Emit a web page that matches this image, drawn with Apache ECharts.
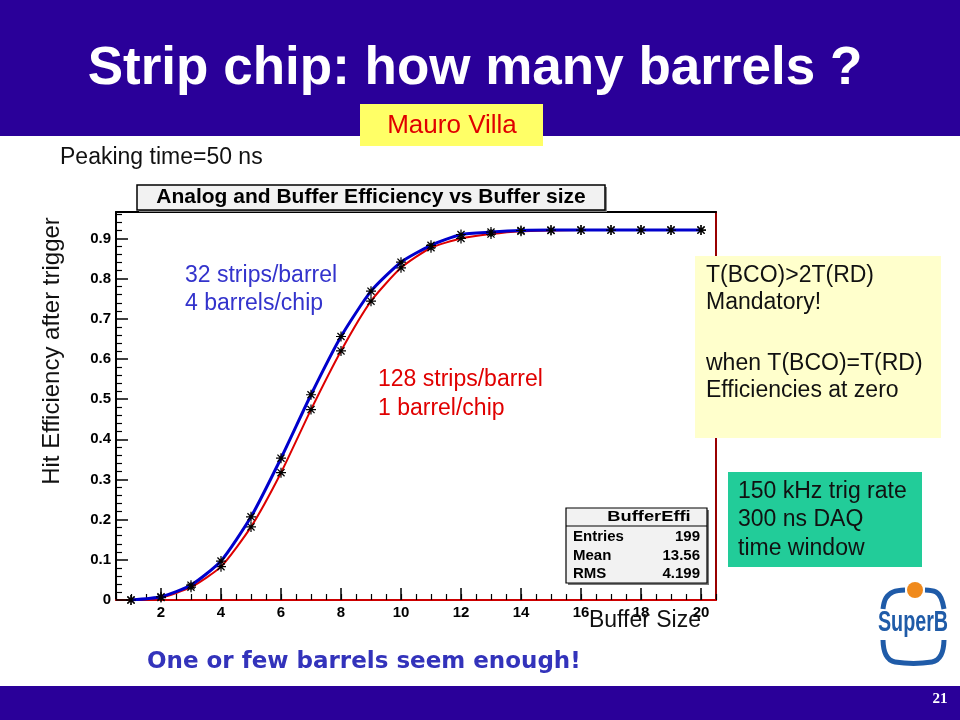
<!DOCTYPE html>
<html>
<head>
<meta charset="utf-8">
<script src="https://cdn.jsdelivr.net/npm/echarts@6/dist/echarts.min.js"></script>
<style>
html,body{margin:0;padding:0;background:#fff;}
#chart{width:960px;height:720px;}
</style>
</head>
<body>
<div id="chart"></div>
<script>
// ---- data ----
const bufferSize = [1,2,3,4,5,6,7,8,9,10,11,12,13,14,15,16,17,18,19,20];
const eff32strips = [0.0,0.008,0.037,0.097,0.207,0.353,0.511,0.656,0.769,0.841,0.883,0.910,0.916,0.920,0.921,0.921,0.921,0.921,0.921,0.921];
const eff128strips = [0.0,0.006,0.032,0.083,0.182,0.317,0.474,0.620,0.744,0.827,0.877,0.900,0.911,0.918,0.920,0.921,0.921,0.921,0.921,0.921];
const xMajorTicks = [2,4,6,8,10,12,14,16,18,20];
const xMinorTicks = [0.5,1,1.5,2,2.5,3,3.5,4,4.5,5,5.5,6,6.5,7,7.5,8,8.5,9,9.5,10,10.5,11,11.5,12,12.5,13,13.5,14,14.5,15,15.5,16,16.5,17,17.5,18,18.5,19,19.5,20,20.5];
const yMajorTicks = [0,0.1,0.2,0.3,0.4,0.5,0.6,0.7,0.8,0.9];
const yMinorTicks = [0.02,0.04,0.06,0.08,0.12,0.14,0.16,0.18,0.22,0.24,0.26,0.28,0.32,0.34,0.36,0.38,0.42,0.44,0.46,0.48,0.52,0.54,0.56,0.58,0.62,0.64,0.66,0.68,0.72,0.74,0.76,0.78,0.82,0.84,0.86,0.88,0.92,0.94,0.96];
const statsRows = [["Entries","199"],["Mean","13.56"],["RMS","4.199"]];

const pairs = (xs, ys) => xs.map((x,i)=>[x, ys[i]]);
const star = 'path://M-0.6,-5 L0.6,-5 L0.6,5 L-0.6,5 Z M-5,-0.6 L5,-0.6 L5,0.6 L-5,0.6 Z M-4,-3.1 L-3.1,-4 L4,3.1 L3.1,4 Z M3.1,-4 L4,-3.1 L-3.1,4 L-4,3.1 Z';

const band = '#2A0099';
const F = '"Liberation Sans", Arial, sans-serif';
const chart = echarts.init(document.getElementById('chart'), null, {renderer:'canvas'});
const lblFont = {fontFamily:'Liberation Sans, Arial', fontWeight:'bold', fontSize:15, color:'#000'};
const txt = (x, y, s, size, color, extra) => Object.assign({type:'text', x:x, y:y, z:11,
  style:{text:s, font:size+'px '+F, fill:color, textAlign:'left', textVerticalAlign:'middle'}}, extra||{});

const graphics = [
  {type:'rect', shape:{x:0,y:0,width:960,height:136}, style:{fill:band}, z:0},
  {type:'rect', shape:{x:0,y:686,width:960,height:34}, style:{fill:band}, z:0},
  {type:'text', x:475, y:69, style:{text:'Strip chip: how many barrels ?', font:'bold 53px '+F, fill:'#fff', textAlign:'center', textVerticalAlign:'middle'}},
  {type:'text', x:940, y:699, style:{text:'21', font:'bold 15px "Liberation Serif", "Times New Roman", serif', fill:'#fff', textAlign:'center', textVerticalAlign:'middle'}},
  {type:'rect', shape:{x:360,y:104,width:183,height:42}, style:{fill:'#FFFF66'}},
  {type:'text', x:452, y:126, style:{text:'Mauro Villa', font:'26px '+F, fill:'#E00000', textAlign:'center', textVerticalAlign:'middle'}},
  txt(60, 158, 'Peaking time=50 ns', 23, '#111'),
  // title box
  {type:'rect', shape:{x:139,y:187,width:468,height:25}, style:{fill:'#888'}, z:5},
  {type:'rect', shape:{x:137,y:185,width:468,height:25}, style:{fill:'#F2F2F2', stroke:'#000', lineWidth:1.5}, z:6},
  {type:'text', x:371, y:197, z:7, style:{text:'Analog and Buffer Efficiency vs Buffer size', font:'bold 21px '+F, fill:'#000', textAlign:'center', textVerticalAlign:'middle'}},
  // axis names
  {type:'text', x:52, y:351, rotation:Math.PI/2, style:{text:'Hit Efficiency after trigger', font:'24px '+F, fill:'#111', textAlign:'center', textVerticalAlign:'middle'}},
  {type:'text', x:701, y:621, z:8, style:{text:'Buffer Size', font:'23px '+F, fill:'#111', textAlign:'right', textVerticalAlign:'middle'}},
  // annotations
  txt(185, 276, '32 strips/barrel', 23, '#3333CC'),
  txt(185, 304, '4 barrels/chip', 23, '#3333CC'),
  txt(378, 380, '128 strips/barrel', 23, '#E00000'),
  txt(378, 409, '1 barrel/chip', 23, '#E00000'),
  {type:'rect', shape:{x:695,y:256,width:246,height:182}, style:{fill:'#FFFFCC'}, z:10},
  txt(706, 276, 'T(BCO)>2T(RD)', 23, '#111'),
  txt(706, 303, 'Mandatory!', 23, '#111'),
  txt(706, 364, 'when T(BCO)=T(RD)', 23, '#111'),
  txt(706, 391, 'Efficiencies at zero', 23, '#111'),
  {type:'rect', shape:{x:728,y:472,width:194,height:95}, style:{fill:'#22CC99'}, z:10},
  txt(738, 492, '150 kHz trig rate', 23, '#111'),
  txt(738, 520, '300 ns DAQ', 23, '#111'),
  txt(738, 549, 'time window', 23, '#111'),
  // stats box
  {type:'rect', shape:{x:568,y:510,width:141,height:75}, style:{fill:'#777'}, z:12},
  {type:'rect', shape:{x:566,y:508,width:141,height:75}, style:{fill:'#F2F2F2', stroke:'#000', lineWidth:1.2}, z:13},
  {type:'line', shape:{x1:566,y1:526,x2:707,y2:526}, style:{stroke:'#000', lineWidth:1.2}, z:14},
  {type:'text', x:649, y:517, scaleX:1.22, z:14, style:{text:'BufferEffi', font:'bold 15px '+F, fill:'#000', textAlign:'center', textVerticalAlign:'middle'}},
  // bottom message
  {type:'text', x:147, y:662, style:{text:'One or few barrels seem enough!', font:'bold 23px "DejaVu Sans", sans-serif', fill:'#3333BB', textVerticalAlign:'middle'}},
  // SuperB logo
  {type:'polyline', shape:{points:[[883,609],[886,598],[893,592],[905,590]], smooth:0.4}, style:{stroke:'#1F5BA8', lineWidth:5, fill:null}, z:20},
  {type:'polyline', shape:{points:[[925,590],[936,592],[941,598],[944,609]], smooth:0.4}, style:{stroke:'#1F5BA8', lineWidth:5, fill:null}, z:20},
  {type:'polyline', shape:{points:[[883,640],[886,655],[895,662],[932,662],[941,655],[944,640]], smooth:0.4}, style:{stroke:'#1F5BA8', lineWidth:5, fill:null}, z:20},
  {type:'circle', shape:{cx:915,cy:590,r:8}, style:{fill:'#F08A1C'}, z:21},
  {type:'text', x:913, y:623, scaleX:0.68, z:22, style:{text:'SuperB', font:'bold 29px '+F, fill:'#1F5BA8', textAlign:'center', textVerticalAlign:'middle', stroke:'#fff', lineWidth:2}}
];
statsRows.forEach((r,i)=>{
  graphics.push({type:'text', x:573, y:537+i*18.5, z:14, style:{text:r[0], font:'bold 15px '+F, fill:'#000', textVerticalAlign:'middle'}});
  graphics.push({type:'text', x:700, y:537+i*18.5, z:14, style:{text:r[1], font:'bold 15px '+F, fill:'#000', textAlign:'right', textVerticalAlign:'middle'}});
});

const option = {
  backgroundColor:'#fff',
  animation:false,
  grid:{left:116, right:244, top:212, bottom:120, containLabel:false},
  xAxis:[
    {type:'value', position:'bottom', min:0.5, max:20.5,
     axisLine:{show:true, onZero:false, lineStyle:{color:'#CC0000', width:2}},
     axisTick:{show:true, inside:true, length:12, customValues:xMajorTicks, lineStyle:{color:'#000', width:1.5}},
     axisLabel:{show:true, customValues:xMajorTicks, margin:5, ...lblFont},
     splitLine:{show:false}},
    {type:'value', position:'bottom', min:0.5, max:20.5,
     axisLine:{show:false},
     axisTick:{show:true, inside:true, length:6, customValues:xMinorTicks, lineStyle:{color:'#000', width:1.2}},
     axisLabel:{show:false}, splitLine:{show:false}},
    {type:'value', position:'top', min:0.5, max:20.5,
     axisLine:{show:true, onZero:false, lineStyle:{color:'#000', width:2}},
     axisTick:{show:false}, axisLabel:{show:false}, splitLine:{show:false}}
  ],
  yAxis:[
    {type:'value', position:'left', min:0, max:0.966,
     axisLine:{show:true, onZero:false, lineStyle:{color:'#000', width:2}},
     axisTick:{show:true, inside:true, length:12, customValues:yMajorTicks, lineStyle:{color:'#000', width:1.5}},
     axisLabel:{show:true, customValues:yMajorTicks, margin:5, ...lblFont},
     splitLine:{show:false}},
    {type:'value', position:'left', min:0, max:0.966,
     axisLine:{show:false},
     axisTick:{show:true, inside:true, length:6, customValues:yMinorTicks, lineStyle:{color:'#000', width:1.2}},
     axisLabel:{show:false}, splitLine:{show:false}},
    {type:'value', position:'right', min:0, max:0.966,
     axisLine:{show:true, onZero:false, lineStyle:{color:'#990000', width:2}},
     axisTick:{show:false}, axisLabel:{show:false}, splitLine:{show:false}}
  ],
  series:[
    {type:'line', name:'128 strips/barrel', xAxisIndex:0, yAxisIndex:0, data:pairs(bufferSize, eff128strips),
     smooth:0.2, lineStyle:{color:'#DD0000', width:2}, symbol:star, symbolSize:10,
     itemStyle:{color:'#000'}, z:3},
    {type:'line', name:'32 strips/barrel', xAxisIndex:0, yAxisIndex:0, data:pairs(bufferSize, eff32strips),
     smooth:0.2, lineStyle:{color:'#0000CC', width:3}, symbol:star, symbolSize:10,
     itemStyle:{color:'#000'}, z:4}
  ],
  graphic:{elements:graphics}
};
chart.setOption(option);
</script>
</body>
</html>
